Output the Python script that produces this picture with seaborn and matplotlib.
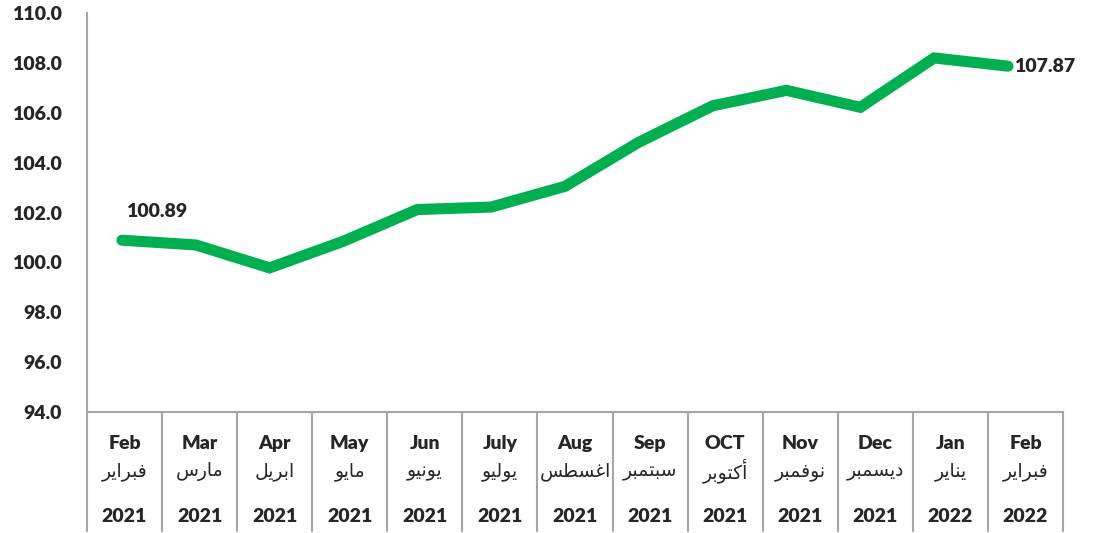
import numpy as np
import pandas as pd
import matplotlib
matplotlib.use('Agg')
import matplotlib.pyplot as plt
import seaborn as sns

# data
months_en = ['Feb', 'Mar', 'Apr', 'May', 'Jun', 'July', 'Aug',
             'Sep', 'OCT', 'Nov', 'Dec', 'Jan', 'Feb']
months_ar = ['فبراير', 'مارس', 'ابريل', 'مايو', 'يونيو', 'يوليو', 'اغسطس',
             'سبتمبر', 'أكتوبر', 'نوفمبر', 'ديسمبر', 'يناير', 'فبراير']
years = ['2021'] * 11 + ['2022'] * 2
index_values = [100.89, 100.70, 99.78, 100.85, 102.12, 102.22, 103.05,
                104.82, 106.28, 106.90, 106.22, 108.20, 107.87]
y_ticks = [94, 96, 98, 100, 102, 104, 106, 108, 110]

GREEN = '#00B050'
GRID_GRAY = '#A6A6A6'

# minimal arabic shaping (matplotlib has no bidi / joining support)
FORMS = {
    'ا': ('\uFE8D', '\uFE8E'), 'أ': ('\uFE83', '\uFE84'),
    'د': ('\uFEA9', '\uFEAA'), 'ر': ('\uFEAD', '\uFEAE'),
    'و': ('\uFEED', '\uFEEE'),
    'ب': ('\uFE8F', '\uFE90', '\uFE91', '\uFE92'),
    'ت': ('\uFE95', '\uFE96', '\uFE97', '\uFE98'),
    'س': ('\uFEB1', '\uFEB2', '\uFEB3', '\uFEB4'),
    'ط': ('\uFEC1', '\uFEC2', '\uFEC3', '\uFEC4'),
    'غ': ('\uFECD', '\uFECE', '\uFECF', '\uFED0'),
    'ف': ('\uFED1', '\uFED2', '\uFED3', '\uFED4'),
    'ك': ('\uFED9', '\uFEDA', '\uFEDB', '\uFEDC'),
    'ل': ('\uFEDD', '\uFEDE', '\uFEDF', '\uFEE0'),
    'م': ('\uFEE1', '\uFEE2', '\uFEE3', '\uFEE4'),
    'ن': ('\uFEE5', '\uFEE6', '\uFEE7', '\uFEE8'),
    'ي': ('\uFEF1', '\uFEF2', '\uFEF3', '\uFEF4'),
}


def shape_arabic(word):
    out = []
    for i, ch in enumerate(word):
        if ch not in FORMS:
            out.append(ch)
            continue
        prev = word[i - 1] if i > 0 else None
        nxt = word[i + 1] if i < len(word) - 1 else None
        join_prev = prev in FORMS and len(FORMS[prev]) == 4
        join_next = len(FORMS[ch]) == 4 and nxt in FORMS
        f = FORMS[ch]
        if join_prev and join_next:
            out.append(f[3])
        elif join_prev:
            out.append(f[1])
        elif join_next:
            out.append(f[2])
        else:
            out.append(f[0])
    return ''.join(reversed(out))


sns.set_style('white')
plt.rcParams['font.family'] = ['Lato', 'DejaVu Sans']

df = pd.DataFrame({'pos': np.arange(len(index_values)), 'value': index_values})

fig = plt.figure(figsize=(11.05, 5.33), dpi=100)
ax = fig.add_axes([0.0787, 0.227, 0.8833, 0.7485])

sns.lineplot(data=df, x='pos', y='value', ax=ax, color=GREEN, linewidth=8,
             solid_capstyle='round', solid_joinstyle='miter')

ax.set_ylim(94, 110)
ax.set_xlim(-0.474, 12.745)
ax.set_yticks(y_ticks)
ax.set_yticklabels([f'{v:.1f}' for v in y_ticks], fontsize=14, fontweight='heavy')
ax.tick_params(axis='y', length=0, pad=18)
ax.set_xticks([])
ax.set_xlabel('')
ax.set_ylabel('')

for side in ['top', 'right']:
    ax.spines[side].set_visible(False)
for side in ['left', 'bottom']:
    ax.spines[side].set_color(GRID_GRAY)
    ax.spines[side].set_linewidth(1.5)

# data labels on first and last point
ax.annotate(f'{index_values[0]:.2f}', (df['pos'].iloc[0], index_values[0]),
            xytext=(25, 21), textcoords='offset points', ha='center', va='center',
            fontsize=14, fontweight='heavy')
ax.annotate(f'{index_values[-1]:.2f}', (df['pos'].iloc[-1], index_values[-1]),
            xytext=(4, 0), textcoords='offset points', ha='left', va='center',
            fontsize=14, fontweight='heavy')

# category table below the axis
n = len(months_en)
for i in range(n + 1):
    x = i / n
    ax.plot([x, x], [0, -0.2975], transform=ax.transAxes, color=GRID_GRAY,
            linewidth=1.5, clip_on=False)
for i in range(n):
    xc = (i + 0.5) / n
    ax.text(xc, -0.078, months_en[i], transform=ax.transAxes, ha='center',
            va='center', fontsize=14, fontweight='heavy')
    ax.text(xc, -0.148, shape_arabic(months_ar[i]), transform=ax.transAxes,
            ha='center', va='center', fontsize=13.5, family=['DejaVu Sans'])
    ax.text(xc, -0.263, years[i], transform=ax.transAxes, ha='center',
            va='center', fontsize=14, fontweight='heavy')

fig.savefig('out.png', dpi=100)
